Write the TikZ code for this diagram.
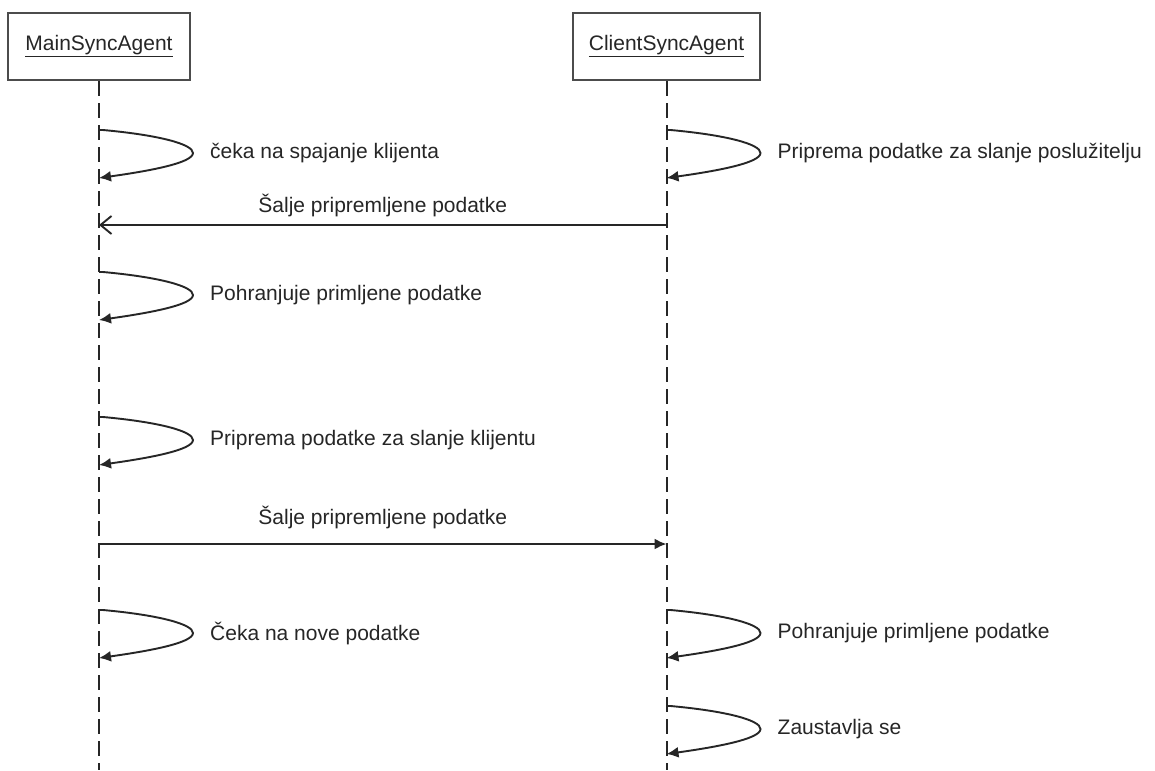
\documentclass[tikz,border=0pt]{standalone}
\usepackage{fontspec}
\setmainfont{Liberation Sans}
\usetikzlibrary{arrows.meta}

% self-call: #1 name, #2 x of lifeline, #3 y of start, #4 label
\newcommand\selfcall[4]{%
  \coordinate (#1s) at (#2,#3);
  \coordinate (#1t) at (#2+94,#3+23);
  \coordinate (#1e) at (#2,#3+48);
  \draw[selfmsg] (#1s) -- ++(4,0) .. controls +(55,5) and +(0,-9) .. (#1t)
                 .. controls +(0,10) and +(50,-7) .. (#1e);
  \node[lbl] (#1l) at (#2+111,#3+23) {#4};
}

\begin{document}
\begin{tikzpicture}[x=1pt,y=-1pt,
  font=\fontsize{21}{25}\selectfont,
  actor/.style={draw=black!70, line width=2.4pt, fill=white, minimum width=182pt,
                minimum height=67pt, inner sep=0pt, text=black!85},
  lifeline/.style={draw=black!85, line width=2pt, dash pattern=on 15pt off 7pt},
  msg/.style={draw=black!85, line width=1.9pt},
  selfmsg/.style={msg, -{Latex[length=12pt,width=11pt]}},
  asyncmsg/.style={msg, -{Straight Barb[length=11pt,width=18pt]}},
  syncmsg/.style={msg, -{Latex[length=12pt,width=11pt]}},
  lbl/.style={anchor=west, text=black!85, inner sep=0pt},
  mlbl/.style={text=black!85, inner sep=0pt}]

\fill[white] (0,0) rectangle (1155,770);
\useasboundingbox (0,0) rectangle (1155,770);

% objects and lifelines
\node[actor] (main) at (99,46.5) {\underline{MainSyncAgent}};
\node[actor, minimum width=187pt] (client) at (666.5,46.5) {\underline{ClientSyncAgent}};
\coordinate (mainend) at (99,770);
\coordinate (clientend) at (666.5,770);
\draw[lifeline] (main.south) -- (mainend);
\draw[lifeline] (client.south) -- (clientend);

% self calls
\selfcall{ma}{99}{130}{čeka na spajanje klijenta}
\selfcall{ca}{666.5}{130}{Priprema podatke za slanje poslužitelju}
\selfcall{mb}{99}{272}{Pohranjuje primljene podatke}
\selfcall{mc}{99}{417}{Priprema podatke za slanje klijentu}
\selfcall{md}{99}{610}{Čeka na nove podatke}
\selfcall{cb}{666.5}{610}{Pohranjuje primljene podatke}
\selfcall{cc}{666.5}{706}{Zaustavlja se}

% messages between the agents
\coordinate (c1) at (666.5,225);
\coordinate (m1) at (99,225);
\draw[asyncmsg] (c1) -- (m1) node[mlbl, midway, yshift=19pt] (l1) {Šalje pripremljene podatke};

\coordinate (m2) at (99,544);
\coordinate (c2) at (666.5,544);
\draw[syncmsg] (m2) -- (c2) node[mlbl, midway, yshift=27pt] (l2) {Šalje pripremljene podatke};

\end{tikzpicture}
\end{document}
